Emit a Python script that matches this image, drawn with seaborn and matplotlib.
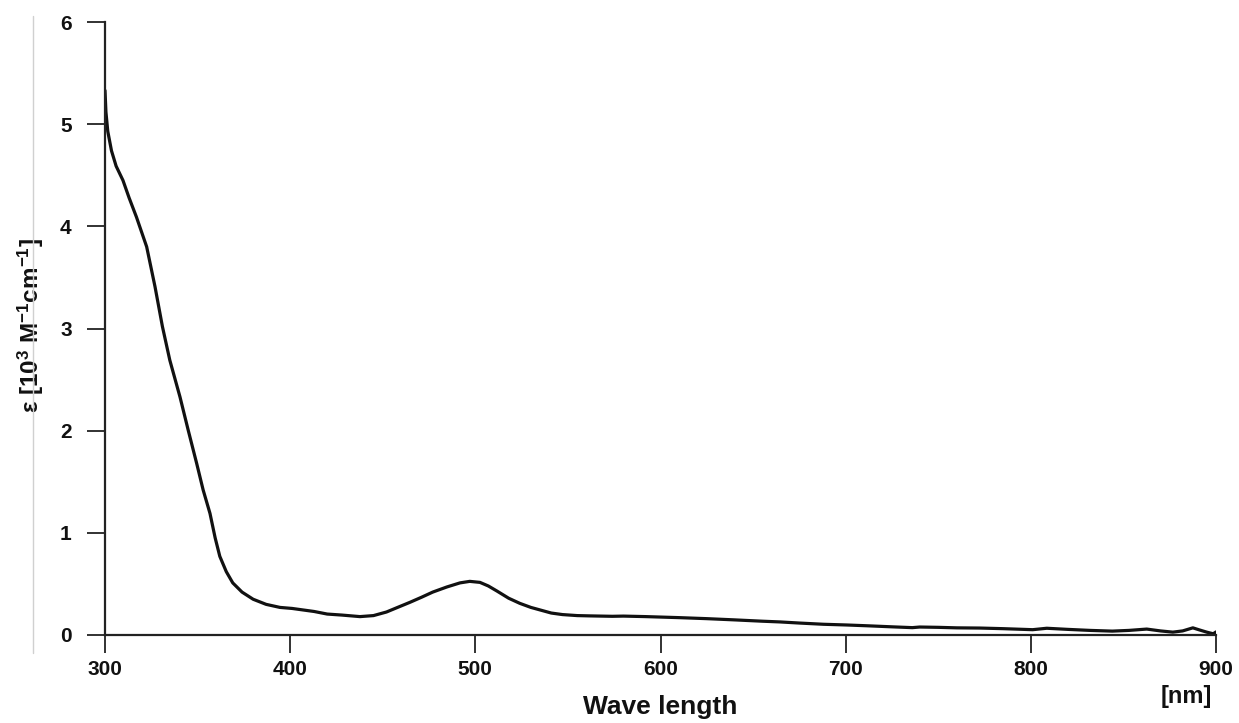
import matplotlib
matplotlib.use("Agg")
import matplotlib.pyplot as plt
import seaborn as sns
from matplotlib.lines import Line2D

wavelength = [300, 300.5, 301.5, 303.5, 306, 309.7, 313, 317, 322.5, 327, 331, 335,
              340.5, 345, 349.5, 353, 356.7, 359.5, 362, 365.5, 369, 374, 380, 387,
              394.5, 401, 407, 413, 420, 428, 437.7, 445, 452, 458, 464.7, 471, 477,
              484.6, 491.7, 497, 502.5, 507, 511.7, 518, 524, 530, 535, 541, 547, 555,
              562, 574, 580, 592, 610, 625, 640, 655, 664.5, 675, 688, 700.6, 712, 725,
              736, 740, 750, 760, 772.5, 785, 801, 808.6, 820, 832, 844, 853, 862.6,
              870, 876.7, 882, 887.5, 891, 895, 898.5, 900]
epsilon = [5.33, 5.12, 4.93, 4.74, 4.59, 4.45, 4.28, 4.09, 3.80, 3.41, 3.02, 2.69,
           2.33, 2.00, 1.68, 1.42, 1.19, 0.95, 0.77, 0.62, 0.51, 0.42, 0.35, 0.30,
           0.27, 0.26, 0.245, 0.23, 0.205, 0.195, 0.18, 0.19, 0.225, 0.27, 0.32, 0.37, 0.42,
           0.47, 0.51, 0.525, 0.515, 0.48, 0.43, 0.36, 0.31, 0.27, 0.245, 0.215, 0.20, 0.19,
           0.187, 0.183, 0.185, 0.18, 0.17, 0.16, 0.148, 0.135, 0.128, 0.117, 0.105, 0.098, 0.09, 0.08,
           0.072, 0.078, 0.075, 0.07, 0.068, 0.062, 0.052, 0.066, 0.055, 0.045, 0.038, 0.045, 0.058,
           0.04, 0.028, 0.04, 0.07, 0.05, 0.028, 0.012, 0.03]

x_ticks = [300, 400, 500, 600, 700, 800, 900]
y_ticks = [0, 1, 2, 3, 4, 5, 6]

sns.set_style("white")
plt.rcParams['font.family'] = ['Liberation Sans', 'DejaVu Sans']
plt.rcParams['mathtext.fontset'] = 'custom'
plt.rcParams['mathtext.rm'] = 'Liberation Sans:bold'
plt.rcParams['mathtext.bf'] = 'Liberation Sans:bold'
plt.rcParams['mathtext.it'] = 'Liberation Sans:bold'
plt.rcParams['mathtext.default'] = 'bf'

fig = plt.figure(figsize=(12.39, 7.23), dpi=100)
ax = fig.add_axes([105/1239, 88/723, 1111/1239, 613/723])

sns.lineplot(x=wavelength, y=epsilon, ax=ax, color="#111111", linewidth=2.3)

ax.set_xlim(300, 900)
ax.set_ylim(0, 6)
ax.set_xticks(x_ticks)
ax.set_yticks(y_ticks)
ax.set_xticklabels([str(v) for v in x_ticks], fontsize=15, fontweight='bold')
ax.set_yticklabels([str(v) for v in y_ticks], fontsize=15, fontweight='bold')

for s in ['top', 'right']:
    ax.spines[s].set_visible(False)
for s in ['left', 'bottom']:
    ax.spines[s].set_color('#222222')
    ax.spines[s].set_linewidth(1.6)

ax.tick_params(axis='x', bottom=True, direction='out', length=13, width=1.3, color='#222222', pad=5, labelcolor='#111111')
ax.tick_params(axis='y', left=True, direction='out', length=13, width=1.3, color='#222222', pad=11, labelcolor='#111111')

ax.set_xlabel("Wave length", fontsize=19, fontweight='bold', color='#111111')
ax.xaxis.set_label_coords(0.5, -0.098)
ax.xaxis.label.set_verticalalignment('top')

ax.set_ylabel(r"ε [10$^{3}$ M$^{-1}$cm$^{-1}$]", fontsize=17.5, fontweight='bold', color='#111111')
ax.yaxis.set_label_coords(-0.067, 0.505)
ax.yaxis.label.set_verticalalignment('center')

fig.text(1212/1239, 1 - 703/723, "[nm]", fontsize=17, fontweight='bold', color='#111111',
         ha='right', va='baseline')

fig.add_artist(Line2D([33/1239, 33/1239], [1 - 16/723, 1 - 653/723], color='#d0d0d0',
                      linewidth=1.0, transform=fig.transFigure))

fig.savefig("out.png", dpi=100)
